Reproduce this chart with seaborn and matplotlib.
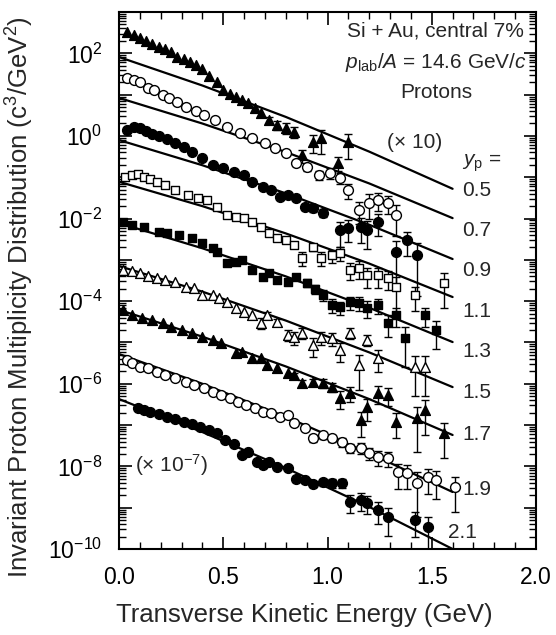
import numpy as np
import pandas as pd
import matplotlib
matplotlib.use("Agg")
import matplotlib.pyplot as plt
import matplotlib.ticker as mticker
import seaborn as sns

# rapidity bins, top to bottom (each one scaled down by a further factor 10)
rapidities = ["0.5", "0.7", "0.9", "1.1", "1.3", "1.5", "1.7", "1.9", "2.1"]
markers = ["^", "o", "o", "s", "s", "^", "^", "o", "o"]
filled = [True, False, True, False, True, False, True, False, True]

# data points: transverse kinetic energy (GeV) and log10 of the yield (already scaled)
x_05 = [0.04, 0.07, 0.10, 0.13, 0.16, 0.19, 0.22, 0.25, 0.28, 0.31, 0.34, 0.37, 0.40, 0.43, 0.47, 0.50,
        0.53, 0.56, 0.59, 0.62, 0.65, 0.68, 0.72, 0.76, 0.80, 0.84, 0.88, 0.93, 0.97, 1.05, 1.10]
ly_05 = [2.52, 2.45, 2.38, 2.30, 2.22, 2.15, 2.10, 2.02, 1.92, 1.86, 1.80, 1.72, 1.62, 1.45, 1.30, 1.12,
         1.02, 0.95, 0.86, 0.80, 0.68, 0.56, 0.39, 0.27, 0.19, 0.10, -0.46, -0.15, -0.05, -0.65, -0.15]
e_05 = [0] * 22 + [0.2, 0.25, 0.3, 0.3, 0.35, 0.45, 0.6, 0.35, 0.6]

x_07 = [0.04, 0.07, 0.10, 0.14, 0.17, 0.21, 0.24, 0.28, 0.32, 0.37, 0.41, 0.46, 0.52, 0.58, 0.64, 0.70,
        0.75, 0.80, 0.85, 0.90, 0.96, 1.01, 1.06, 1.10, 1.15, 1.20, 1.24, 1.29, 1.33]
ly_07 = [1.40, 1.36, 1.30, 1.16, 1.10, 1.00, 0.92, 0.82, 0.70, 0.60, 0.50, 0.38, 0.22, 0.08, -0.05, -0.18,
         -0.30, -0.41, -0.65, -0.75, -0.94, -0.90, -1.02, -1.31, -1.79, -1.62, -1.55, -1.62, -1.91]
e_07 = [0] * 18 + [0.15, 0.2, 0.25, 0.3, 0.3, 0.4, 0.55, 0.6, 0.45, 0.45, 0.7]

x_09 = [0.04, 0.07, 0.10, 0.13, 0.16, 0.19, 0.23, 0.27, 0.31, 0.35, 0.40, 0.45, 0.50, 0.55, 0.60, 0.64,
        0.69, 0.73, 0.77, 0.81, 0.85, 0.89, 0.93, 0.98, 1.06, 1.10, 1.16, 1.19, 1.24, 1.33, 1.38, 1.43]
ly_09 = [0.15, 0.22, 0.20, 0.12, 0.05, 0.00, -0.08, -0.18, -0.28, -0.39, -0.53, -0.70, -0.78, -0.88, -0.95,
         -1.11, -1.23, -1.30, -1.48, -1.43, -1.50, -1.72, -1.74, -1.86, -2.28, -2.23, -2.20, -2.28, -2.08,
         -2.81, -2.52, -2.88]
e_09 = [0] * 21 + [0.15, 0.2, 0.2, 0.6, 0.55, 0.6, 0.65, 0.55, 0.88, 0.6, 0.9]

x_11 = [0.03, 0.06, 0.09, 0.12, 0.15, 0.18, 0.22, 0.27, 0.33, 0.38, 0.42, 0.47, 0.52, 0.56, 0.60, 0.64,
        0.68, 0.72, 0.76, 0.80, 0.84, 0.88, 0.93, 0.97, 1.02, 1.06, 1.11, 1.15, 1.19, 1.24, 1.29, 1.33,
        1.42, 1.56]
ly_11 = [-1.00, -0.95, -0.92, -1.00, -1.05, -1.11, -1.19, -1.31, -1.43, -1.50, -1.55, -1.72, -1.91, -1.96,
         -1.99, -2.08, -2.20, -2.35, -2.47, -2.52, -2.64, -2.95, -2.69, -2.95, -2.88, -2.83, -3.24, -3.20,
         -3.37, -3.37, -3.44, -3.66, -3.85, -3.56]
e_11 = [0] * 20 + [0.15, 0.35, 0.2, 0.35, 0.35, 0.35, 0.45, 0.45, 0.5, 0.5, 0.5, 0.8, 0.6, 0.75]

x_13 = [0.02, 0.06, 0.12, 0.19, 0.23, 0.29, 0.35, 0.40, 0.45, 0.47, 0.52, 0.56, 0.59, 0.64, 0.69, 0.72,
        0.76, 0.81, 0.85, 0.90, 0.94, 0.98, 1.02, 1.06, 1.11, 1.15, 1.19, 1.24, 1.29, 1.33, 1.37, 1.47, 1.52]
ly_13 = [-2.08, -2.15, -2.20, -2.32, -2.35, -2.40, -2.47, -2.59, -2.71, -2.81, -3.07, -3.05, -3.00, -3.24,
         -3.41, -3.32, -3.49, -3.54, -3.41, -3.55, -3.70, -3.85, -4.09, -4.14, -4.02, -4.04, -4.16, -4.09,
         -4.53, -4.33, -4.89, -4.33, -4.70]
e_13 = [0] * 10 + [0.15] * 9 + [0.2, 0.25, 0.3] + [0.35, 0.35, 0.35, 0.35, 0.45, 0.4, 0.55, 0.5, 0.8, 0.5, 0.65]

x_15 = [0.02, 0.06, 0.10, 0.14, 0.18, 0.22, 0.27, 0.32, 0.36, 0.40, 0.45, 0.48, 0.52, 0.56, 0.60, 0.64,
        0.68, 0.71, 0.76, 0.81, 0.84, 0.88, 0.93, 0.97, 1.02, 1.06, 1.11, 1.15, 1.19, 1.24, 1.42, 1.47]
ly_15 = [-3.24, -3.28, -3.33, -3.38, -3.43, -3.48, -3.54, -3.66, -3.68, -3.85, -3.85, -3.92, -4.02, -4.16,
         -4.26, -4.33, -4.53, -4.33, -4.50, -4.82, -4.87, -4.77, -5.06, -4.87, -4.90, -5.18, -4.77, -5.55,
         -4.94, -5.38, -5.59, -5.59]
e_15 = [0] * 16 + [0.3, 0.15, 0.2, 0.3, 0.35, 0.3, 0.5, 0.35, 0.35, 0.5, 0.3, 0.75, 0.3, 0.55, 0.8, 0.8]

x_17 = [0.02, 0.06, 0.11, 0.16, 0.21, 0.25, 0.30, 0.35, 0.40, 0.45, 0.49, 0.56, 0.59, 0.64, 0.68, 0.71,
        0.76, 0.81, 0.84, 0.88, 0.93, 0.98, 1.02, 1.06, 1.11, 1.16, 1.19, 1.24, 1.29, 1.33, 1.43, 1.47, 1.56]
ly_17 = [-4.21, -4.33, -4.41, -4.46, -4.53, -4.62, -4.70, -4.77, -4.87, -4.94, -5.01, -5.25, -5.23, -5.38,
         -5.38, -5.54, -5.62, -5.74, -5.79, -5.98, -5.96, -5.98, -6.08, -6.34, -6.22, -6.88, -6.56, -6.22,
         -6.27, -6.92, -6.83, -6.63, -7.19]
e_17 = [0] * 18 + [0.15, 0.2, 0.2, 0.25, 0.25, 0.45, 0.4, 0.6, 0.55, 0.45, 0.45, 0.6, 0.85, 0.75, 0.75]

x_19 = [0.04, 0.06, 0.10, 0.14, 0.18, 0.22, 0.27, 0.32, 0.36, 0.41, 0.45, 0.49, 0.53, 0.57, 0.61, 0.65,
        0.69, 0.73, 0.77, 0.81, 0.84, 0.89, 0.93, 0.98, 1.02, 1.07, 1.11, 1.16, 1.20, 1.24, 1.29, 1.34,
        1.38, 1.43, 1.48, 1.52, 1.61]
ly_19 = [-5.42, -5.50, -5.59, -5.62, -5.71, -5.79, -5.86, -5.96, -6.03, -6.10, -6.20, -6.27, -6.34, -6.44,
         -6.51, -6.59, -6.68, -6.71, -6.80, -6.76, -6.95, -7.07, -7.31, -7.24, -7.31, -7.41, -7.55, -7.55,
         -7.68, -7.77, -7.80, -8.14, -8.16, -8.40, -8.26, -8.33, -8.50]
e_19 = [0] * 21 + [0.1, 0.2, 0.2, 0.2, 0.25, 0.25, 0.3, 0.3, 0.4, 0.4, 0.6, 0.6, 0.85, 0.6, 0.65, 0.75]

x_21 = [0.09, 0.12, 0.15, 0.19, 0.23, 0.27, 0.31, 0.35, 0.39, 0.43, 0.47, 0.51, 0.55, 0.59, 0.62, 0.66,
        0.69, 0.72, 0.76, 0.81, 0.85, 0.89, 0.93, 0.98, 1.02, 1.07, 1.11, 1.16, 1.19, 1.24, 1.29, 1.42, 1.48]
ly_21 = [-6.59, -6.63, -6.68, -6.74, -6.80, -6.86, -6.92, -6.98, -7.05, -7.12, -7.19, -7.35, -7.45, -7.72,
         -7.66, -7.90, -7.97, -7.89, -8.01, -8.04, -8.30, -8.33, -8.42, -8.38, -8.40, -8.40, -8.86, -8.81,
         -8.89, -9.06, -9.23, -9.30, -9.47]
e_21 = [0] * 20 + [0.15, 0.15, 0.15, 0.2, 0.25, 0.25, 0.45, 0.45, 0.45, 0.55, 0.65, 0.6, 0.8]

# thermal fit curves, read at a few kinetic energies (log10 yield)
fit_x = [0.0, 0.4, 0.8, 1.2, 1.6]
fit_05 = [1.91, 1.22, 0.46, -0.38, -1.28]
fit_07 = [0.92, 0.30, -0.39, -1.15, -1.99]
fit_09 = [-0.10, -0.71, -1.39, -2.15, -2.98]
fit_11 = [-1.11, -1.70, -2.36, -3.09, -3.90]
fit_13 = [-2.11, -2.72, -3.40, -4.16, -4.99]
fit_15 = [-3.15, -3.77, -4.47, -5.24, -6.08]
fit_17 = [-4.21, -4.86, -5.58, -6.37, -7.24]
fit_19 = [-5.28, -6.00, -6.80, -7.68, -8.62]
fit_21 = [-6.37, -7.17, -8.04, -8.98, -10.0]

# y position (log10) of the rapidity labels at the right
label_ly = [-1.31, -2.30, -3.27, -4.24, -5.23, -6.20, -7.22, -8.55, -9.61]

xs = [x_05, x_07, x_09, x_11, x_13, x_15, x_17, x_19, x_21]
lys = [ly_05, ly_07, ly_09, ly_11, ly_13, ly_15, ly_17, ly_19, ly_21]
errs = [e_05, e_07, e_09, e_11, e_13, e_15, e_17, e_19, e_21]
fits = [fit_05, fit_07, fit_09, fit_11, fit_13, fit_15, fit_17, fit_19, fit_21]

sns.set_style("ticks")
plt.rcParams["font.family"] = ["Liberation Sans", "DejaVu Sans"]
plt.rcParams["mathtext.fontset"] = "custom"
plt.rcParams["mathtext.rm"] = "Liberation Sans"
plt.rcParams["mathtext.it"] = "Liberation Sans:italic"
plt.rcParams["mathtext.default"] = "regular"

fig = plt.figure(figsize=(5.56, 6.35), dpi=100)
ax = fig.add_axes([119 / 556, 1 - 549 / 635, 417 / 556, 537 / 635])

for yp, x, ly, e, fit, mk, fl in zip(rapidities, xs, lys, errs, fits, markers, filled):
    df = pd.DataFrame({"T": x, "y": 10 ** np.array(ly), "rel": e})
    df["err"] = df["y"] * df["rel"]
    withe = df[df["rel"] > 0]
    ax.errorbar(withe["T"], withe["y"], yerr=withe["err"], fmt="none",
                ecolor="black", elinewidth=1.0, capsize=3, capthick=1.0, zorder=2)
    fd = pd.DataFrame({"T": fit_x, "y": 10 ** np.array(fit)})
    sns.lineplot(data=fd, x="T", y="y", color="black", linewidth=1.6, ax=ax, zorder=1)
    sns.scatterplot(data=df, x="T", y="y", marker=mk, s=50 if mk != "s" else 40,
                    color="black" if fl else "white", edgecolor="black", linewidth=1.0,
                    ax=ax, zorder=3)

ax.set_yscale("log")
ax.set_xlim(0, 2.0)
ax.set_ylim(1e-10, 1e3)

ax.xaxis.set_major_locator(mticker.MultipleLocator(0.5))
ax.xaxis.set_minor_locator(mticker.MultipleLocator(0.1))
ax.xaxis.set_major_formatter(mticker.FormatStrFormatter("%.1f"))
ax.yaxis.set_major_locator(mticker.LogLocator(base=10, numticks=30))
ax.yaxis.set_minor_locator(mticker.LogLocator(base=10, subs=np.arange(2, 10), numticks=30))
ax.yaxis.set_minor_formatter(mticker.NullFormatter())


def fmt_y(v, pos):
    e = int(round(np.log10(v)))
    if e % 2:
        return ""
    return r"$10^{%d}$" % e


ax.yaxis.set_major_formatter(mticker.FuncFormatter(fmt_y))
ax.tick_params(which="both", direction="in", top=True, right=True, colors="black", labelsize=16.5)
ax.tick_params(which="major", length=9, width=1.2)
ax.tick_params(which="minor", length=5, width=1.0)
ax.tick_params(axis="x", pad=12)
ax.tick_params(axis="y", pad=12)
for sp in ax.spines.values():
    sp.set_linewidth(1.5)
    sp.set_color("black")

ax.set_xlabel("Transverse Kinetic Energy (GeV)", fontsize=18.5)
ax.set_ylabel("Invariant Proton Multiplicity Distribution ($c^3$/GeV$^2$)", fontsize=18.5)
ax.xaxis.set_label_coords(0.445, -0.1)
ax.yaxis.set_label_coords(-0.2, 0.47)

ax.text(1.52, 10 ** 2.55, "Si + Au, central 7%", fontsize=15, ha="center", va="center")
ax.text(1.52, 10 ** 1.78, r"$\mathit{p}_{\rm lab}/\mathit{A}$ = 14.6 GeV/$\mathit{c}$", fontsize=15,
        ha="center", va="center")
ax.text(1.52, 10 ** 1.04, "Protons", fontsize=15, ha="center", va="center")
ax.text(1.42, 10 ** -0.15, "(× 10)", fontsize=15, ha="center", va="center")
ax.text(0.25, 10 ** -7.97, "(× 10$^{-7}$)", fontsize=15, ha="center", va="center")
ax.text(1.645, 10 ** -0.65, r"$\mathit{y}_{\rm p}$ =", fontsize=15, ha="left", va="center")
for i, (yp, ly) in enumerate(zip(rapidities, label_ly)):
    ax.text(1.58 if i == len(rapidities) - 1 else 1.645, 10 ** ly, yp, fontsize=15, ha="left", va="center")

fig.savefig("out.png", dpi=100, facecolor="white")
